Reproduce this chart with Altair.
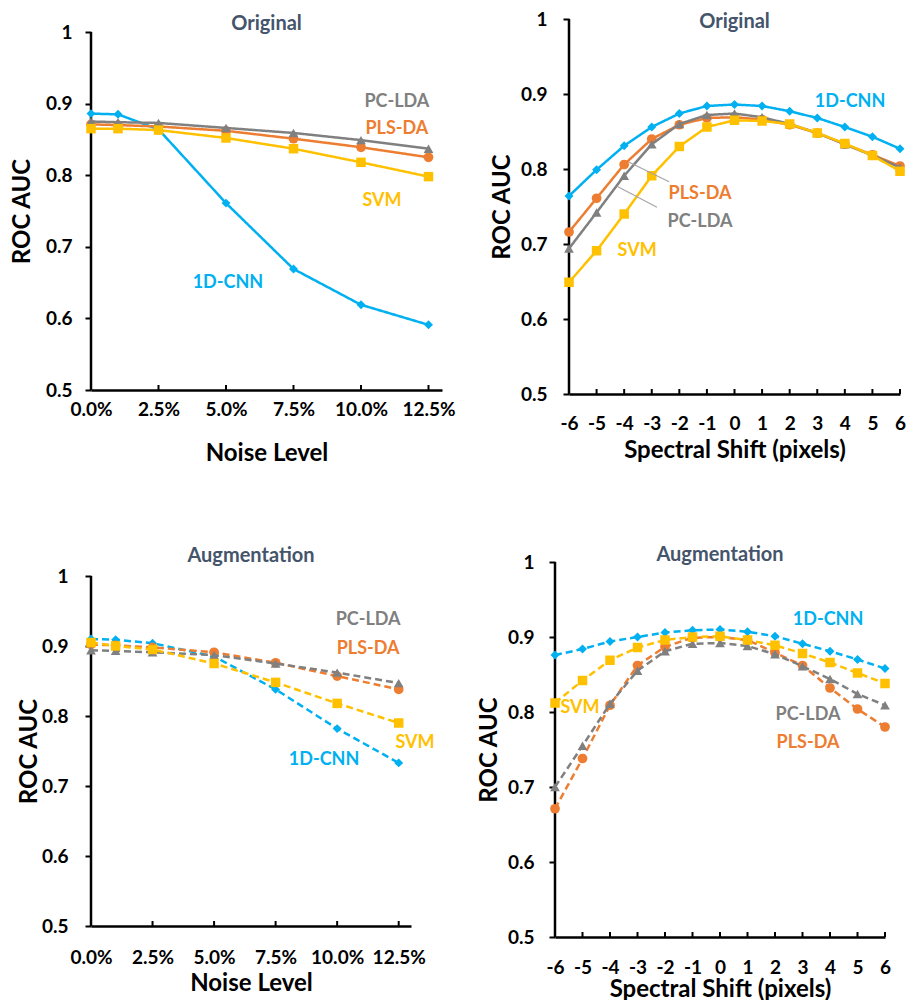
import altair as alt
import pandas as pd

FONT = "Lato"
SERIES_ORDER = ["1D-CNN", "PLS-DA", "PC-LDA", "SVM"]
COLORS = {"1D-CNN": "#00B0F0", "PLS-DA": "#ED7D31", "PC-LDA": "#808080", "SVM": "#FFC000"}
SHAPES = {"1D-CNN": "diamond", "PLS-DA": "circle", "PC-LDA": "triangle-up", "SVM": "square"}
SIZES = {"1D-CNN": 80, "PLS-DA": 95, "PC-LDA": 95, "SVM": 90}

# ---------------- data ----------------
noise_levels = [0, 1, 2.5, 5, 7.5, 10, 12.5]          # percent
shifts = [-6, -5, -4, -3, -2, -1, 0, 1, 2, 3, 4, 5, 6]  # pixels

noise_ticks = [0, 2.5, 5, 7.5, 10, 12.5]
shift_ticks = shifts
y_ticks = [0.5, 0.6, 0.7, 0.8, 0.9, 1.0]

orig_noise = {
    "1D-CNN": [0.886, 0.885, 0.864, 0.761, 0.669, 0.619, 0.591],
    "PLS-DA": [0.871, 0.870, 0.868, 0.862, 0.851, 0.839, 0.825],
    "PC-LDA": [0.875, 0.874, 0.873, 0.866, 0.859, 0.849, 0.837],
    "SVM":    [0.865, 0.865, 0.863, 0.852, 0.837, 0.818, 0.798],
}
orig_shift = {
    "1D-CNN": [0.764, 0.799, 0.831, 0.856, 0.874, 0.884, 0.886, 0.884, 0.877, 0.868, 0.856, 0.843, 0.827],
    "PLS-DA": [0.716, 0.761, 0.806, 0.840, 0.859, 0.868, 0.869, 0.866, 0.859, 0.848, 0.833, 0.819, 0.804],
    "PC-LDA": [0.694, 0.742, 0.791, 0.833, 0.860, 0.872, 0.874, 0.869, 0.860, 0.848, 0.833, 0.818, 0.802],
    "SVM":    [0.649, 0.691, 0.740, 0.791, 0.830, 0.856, 0.865, 0.864, 0.860, 0.848, 0.834, 0.818, 0.797],
}
aug_noise = {
    "1D-CNN": [0.910, 0.909, 0.904, 0.885, 0.838, 0.782, 0.733],
    "PLS-DA": [0.902, 0.901, 0.898, 0.891, 0.876, 0.857, 0.838],
    "PC-LDA": [0.894, 0.893, 0.891, 0.887, 0.875, 0.862, 0.847],
    "SVM":    [0.905, 0.900, 0.895, 0.875, 0.848, 0.818, 0.790],
}
aug_shift = {
    "1D-CNN": [0.876, 0.884, 0.894, 0.900, 0.906, 0.909, 0.910, 0.907, 0.901, 0.891, 0.881, 0.870, 0.858],
    "PLS-DA": [0.671, 0.738, 0.809, 0.862, 0.887, 0.899, 0.900, 0.896, 0.879, 0.862, 0.832, 0.804, 0.780],
    "PC-LDA": [0.700, 0.755, 0.811, 0.855, 0.881, 0.891, 0.892, 0.888, 0.877, 0.861, 0.844, 0.824, 0.809],
    "SVM":    [0.812, 0.842, 0.869, 0.886, 0.896, 0.900, 0.901, 0.896, 0.889, 0.878, 0.866, 0.852, 0.838],
}

# series label annotations (data units): name, x, y
lab_orig_noise = [("PC-LDA", 11.33, 0.902), ("PLS-DA", 11.33, 0.865), ("SVM", 10.78, 0.764), ("1D-CNN", 5.07, 0.649)]
lab_orig_shift = [("1D-CNN", 4.19, 0.889), ("PLS-DA", -1.25, 0.767), ("PC-LDA", -1.25, 0.729), ("SVM", -3.53, 0.691)]
lab_aug_noise = [("PC-LDA", 11.26, 0.937), ("PLS-DA", 11.26, 0.896), ("SVM", 13.16, 0.761), ("1D-CNN", 9.47, 0.737)]
lab_aug_shift = [("1D-CNN", 3.93, 0.923), ("SVM", -5.09, 0.805), ("PC-LDA", 3.2, 0.796), ("PLS-DA", 3.2, 0.759)]

# leader lines in the top-right panel (data units): x, y, x2, y2
leaders_orig_shift = [(-3.82, 0.809, -2.37, 0.783), (-4.26, 0.777, -2.81, 0.749)]


def panel(xs, data, title, title_dy, xtitle, xdomain, xticks, xfmt, w, h, dashed, labels,
          leaders=None, xlab_pad=7, xtitle_pad=10, ylab_pad=13, ytitle_pad=10, spacer=None, ext=0):
    # ext: extra empty pixels kept above the y=1 line (plot area grows upward)
    if xfmt == "pct":
        lexpr = "format(datum.value / 100, '.1%')"
    else:
        lexpr = "'' + datum.value"
    ytop = 1.0 + 0.5 * ext / h
    H = h + ext
    xenc = alt.X("x:Q",
                 scale=alt.Scale(domain=xdomain, nice=False, zero=False),
                 axis=alt.Axis(values=xticks, ticks=False, labelExpr=lexpr, title=xtitle,
                               domainColor="black", domainWidth=2.5, grid=False,
                               labelFont=FONT, labelFontSize=19, labelFontWeight="bold", labelColor="black",
                               labelPadding=xlab_pad, labelFlush=False, labelOverlap=False,
                               titleFont=FONT, titleFontSize=24, titleFontWeight="bold", titleColor="black",
                               titlePadding=xtitle_pad))
    yenc = alt.Y("y:Q",
                 scale=alt.Scale(domain=[0.5, ytop], nice=False, zero=False),
                 axis=alt.Axis(values=y_ticks, title="ROC AUC", domain=False,
                               labelExpr="datum.value == 1 ? '1' : format(datum.value, '.1f')",
                               grid=False,
                               tickColor="black", tickWidth=2, tickSize=6,
                               labelFont=FONT, labelFontSize=19, labelFontWeight="bold", labelColor="black",
                               labelPadding=ylab_pad, titleY=ext + h / 2,
                               titleFont=FONT, titleFontSize=24, titleFontWeight="bold", titleColor="black",
                               titlePadding=ytitle_pad))
    layers = []
    # y axis line from 0.5 to 1
    layers.append(alt.Chart(pd.DataFrame({"y": [0.5], "y2": [1.0]})).mark_rule(
        color="black", strokeWidth=2.5).encode(x=alt.value(0), y=yenc, y2="y2:Q"))
    # inward x ticks
    tick_df = pd.DataFrame({"x": xticks})
    layers.append(alt.Chart(tick_df).mark_rule(color="black", strokeWidth=2).encode(
        x=xenc, y=alt.value(H), y2=alt.value(H - 5)))
    dash = [7, 4] if dashed else [1, 0]
    for s in SERIES_ORDER:
        df = pd.DataFrame({"x": xs, "y": data[s]})
        base = alt.Chart(df)
        layers.append(base.mark_line(color=COLORS[s], strokeWidth=2.5, strokeDash=dash).encode(x=xenc, y=yenc))
        layers.append(base.mark_point(color=COLORS[s], filled=True, opacity=1, size=SIZES[s],
                                      shape=SHAPES[s]).encode(x=xenc, y=yenc))
    if leaders:
        ldf = pd.DataFrame(leaders, columns=["x", "y", "x2", "y2"])
        layers.append(alt.Chart(ldf).mark_rule(color="#A6A6A6", strokeWidth=1.2).encode(
            x=xenc, y=yenc, x2="x2:Q", y2="y2:Q"))
    lab_df = pd.DataFrame(labels, columns=["text", "x", "y"])
    lab_df["color"] = lab_df["text"].map(COLORS)
    layers.append(alt.Chart(lab_df).mark_text(font=FONT, fontSize=18, fontWeight="bold").encode(
        x=xenc, y=yenc, text="text:N", color=alt.Color("color:N", scale=None)))
    # panel title
    tdf = pd.DataFrame({"t": [title]})
    layers.append(alt.Chart(tdf).mark_text(font=FONT, fontSize=20, fontWeight="bold", color="#44546A").encode(
        x=alt.value(w / 2), y=alt.value(ext + title_dy), text="t:N"))
    if spacer is not None:
        sdf = pd.DataFrame({"s": [0]})
        layers.append(alt.Chart(sdf).mark_rule(strokeOpacity=0, opacity=0).encode(
            x=alt.value(spacer), x2=alt.value(spacer + 1), y=alt.value(H / 2)))
    return alt.layer(*layers).properties(width=w, height=H)


p1 = panel(noise_levels, orig_noise, "Original", -8, "Noise Level", [0, 13], noise_ticks, "pct",
           351, 358, False, lab_orig_noise, xlab_pad=10, xtitle_pad=22, ylab_pad=13, ytitle_pad=11, ext=13)
p2 = panel(shifts, orig_shift, "Original", 3, "Spectral Shift (pixels)", [-6, 6], shift_ticks, "int",
           331, 375, False, lab_orig_shift, leaders=leaders_orig_shift,
           xlab_pad=20, xtitle_pad=5, ylab_pad=16, ytitle_pad=6)
p3 = panel(noise_levels, aug_noise, "Augmentation", -20, "Noise Level", [0, 13], noise_ticks, "pct",
           320, 350, True, lab_aug_noise, xlab_pad=22, xtitle_pad=4, ylab_pad=17, ytitle_pad=0, spacer=-86,
           ext=14)
p4 = panel(shifts, aug_shift, "Augmentation", -7, "Spectral Shift (pixels)", [-6, 6], shift_ticks, "int",
           330, 375, True, lab_aug_shift, xlab_pad=21, xtitle_pad=0, ylab_pad=15, ytitle_pad=6)

row1 = alt.hconcat(p1, p2, spacing=34)
row2 = alt.hconcat(p3, p4, spacing=42)
chart = alt.vconcat(row1, row2, spacing=80).properties(
    padding={"left": 5, "top": 10, "right": 0, "bottom": 0},
    background="white",
).configure_view(stroke=None)

chart.save("out.html", embed_options={"renderer": "svg", "actions": False})
